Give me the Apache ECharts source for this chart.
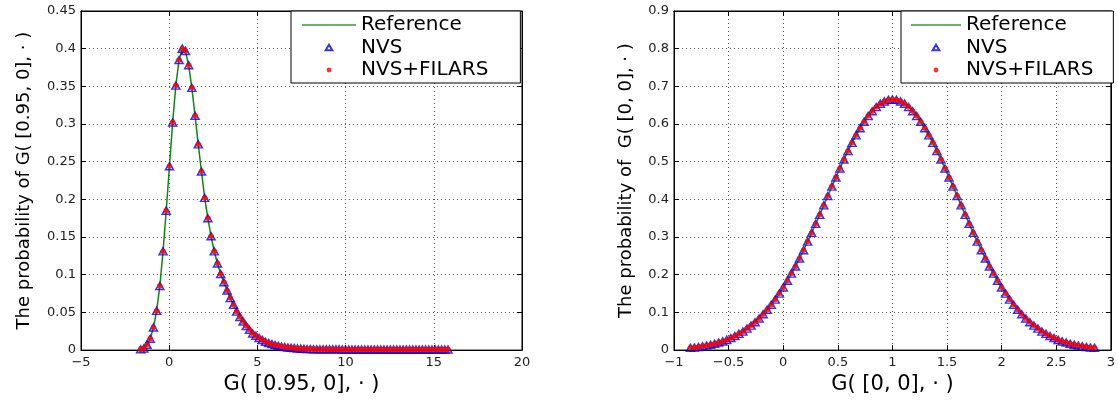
<!DOCTYPE html>
<html>
<head>
<meta charset="utf-8">
<title>G distribution</title>
<script src="https://cdn.jsdelivr.net/npm/echarts@6/dist/echarts.min.js"></script>
<style>
  html, body { margin: 0; padding: 0; background: #fff; }
  #chart { width: 1118px; height: 400px; }
</style>
</head>
<body>
<div id="chart"></div>
<script>
// left panel: G( [0.95, 0], . )
const leftX = [
  -1.62, -1.44, -1.257, -1.076, -0.894, -0.713, -0.531, -0.35, -0.168, 0.014,
  0.195, 0.377, 0.558, 0.74, 0.921, 1.103, 1.284, 1.466, 1.647, 1.829,
  2.01, 2.192, 2.373, 2.555, 2.736, 2.918, 3.099, 3.281, 3.462, 3.644,
  3.825, 4.007, 4.188, 4.37, 4.551, 4.733, 4.914, 5.096, 5.277, 5.459,
  5.64, 5.822, 6.003, 6.185, 6.366, 6.548, 6.729, 6.911, 7.092, 7.274,
  7.455, 7.637, 7.818, 8.0, 8.181, 8.363, 8.544, 8.726, 8.907, 9.089,
  9.27, 9.452, 9.633, 9.815, 9.996, 10.178, 10.359, 10.541, 10.722, 10.904,
  11.085, 11.267, 11.448, 11.63, 11.811, 11.993, 12.174, 12.356, 12.537, 12.719,
  12.9, 13.082, 13.263, 13.445, 13.626, 13.808, 13.989, 14.171, 14.352, 14.534,
  14.715, 14.897, 15.078, 15.26, 15.441, 15.623, 15.804
];
const leftP = [
  0.001, 0.002, 0.007, 0.015, 0.03, 0.052, 0.085, 0.131, 0.185, 0.244,
  0.302, 0.351, 0.385, 0.4, 0.397, 0.378, 0.348, 0.311, 0.273, 0.237,
  0.202, 0.175, 0.151, 0.131, 0.115, 0.101, 0.09, 0.079, 0.069, 0.06,
  0.051, 0.044, 0.038, 0.032, 0.027, 0.022, 0.019, 0.016, 0.0135, 0.011,
  0.0092, 0.0079, 0.0066, 0.0057, 0.0048, 0.0041, 0.0035, 0.003, 0.0026, 0.0022,
  0.0019, 0.0017, 0.0015, 0.0013, 0.0012, 0.0011, 0.001, 0.001, 0.001, 0.0009,
  0.0009, 0.0009, 0.0009, 0.0008, 0.0008, 0.0008, 0.0008, 0.0008, 0.0008, 0.0008,
  0.0008, 0.0008, 0.0008, 0.0008, 0.0008, 0.0008, 0.0008, 0.0008, 0.0008, 0.0008,
  0.0008, 0.0008, 0.0008, 0.0008, 0.0008, 0.0008, 0.0008, 0.0008, 0.0008, 0.0008,
  0.0008, 0.0008, 0.0008, 0.0008, 0.0008, 0.0008, 0.0008
];

// right panel: G( [0, 0], . )
const rightX = [
  -0.85, -0.813, -0.776, -0.739, -0.702, -0.665, -0.628, -0.591, -0.554, -0.517,
  -0.48, -0.443, -0.406, -0.369, -0.332, -0.295, -0.258, -0.221, -0.184, -0.147,
  -0.11, -0.073, -0.036, 0.001, 0.038, 0.075, 0.112, 0.149, 0.186, 0.223,
  0.26, 0.297, 0.334, 0.371, 0.408, 0.445, 0.482, 0.519, 0.556, 0.593,
  0.63, 0.667, 0.704, 0.741, 0.778, 0.815, 0.852, 0.889, 0.926, 0.963,
  1.0, 1.037, 1.074, 1.111, 1.148, 1.185, 1.222, 1.259, 1.296, 1.333,
  1.37, 1.407, 1.444, 1.481, 1.518, 1.555, 1.592, 1.629, 1.666, 1.703,
  1.74, 1.777, 1.814, 1.851, 1.888, 1.925, 1.962, 1.999, 2.036, 2.073,
  2.11, 2.147, 2.184, 2.221, 2.258, 2.295, 2.332, 2.369, 2.406, 2.443,
  2.48, 2.517, 2.554, 2.591, 2.628, 2.665, 2.702, 2.739, 2.776, 2.813,
  2.85
];
const rightP = [
  0.006, 0.007, 0.008, 0.01, 0.012, 0.014, 0.017, 0.02, 0.023, 0.027,
  0.032, 0.037, 0.043, 0.049, 0.057, 0.065, 0.074, 0.084, 0.095, 0.107,
  0.12, 0.134, 0.15, 0.166, 0.184, 0.203, 0.222, 0.243, 0.265, 0.288,
  0.311, 0.335, 0.359, 0.384, 0.409, 0.434, 0.458, 0.482, 0.506, 0.528,
  0.55, 0.57, 0.589, 0.606, 0.621, 0.634, 0.645, 0.654, 0.66, 0.664,
  0.665, 0.664, 0.66, 0.654, 0.645, 0.634, 0.621, 0.606, 0.589, 0.57,
  0.55, 0.528, 0.506, 0.482, 0.458, 0.434, 0.409, 0.384, 0.359, 0.335,
  0.311, 0.288, 0.265, 0.243, 0.222, 0.203, 0.184, 0.166, 0.15, 0.134,
  0.12, 0.107, 0.095, 0.084, 0.074, 0.065, 0.057, 0.049, 0.043, 0.037,
  0.032, 0.027, 0.023, 0.02, 0.017, 0.014, 0.012, 0.01, 0.008, 0.007,
  0.006
];

// axis ranges: [min, max, interval]
const leftXRange = [-5, 20, 5];
const leftYRange = [0, 0.45, 0.05];
const rightXRange = [-1, 3, 0.5];
const rightYRange = [0, 0.9, 0.1];

const seriesNames = ['Reference', 'NVS', 'NVS+FILARS'];
const axisNames = {
  leftX: 'G( [0.95, 0], \u00b7 )',
  leftY: 'The probability of G( [0.95, 0], \u00b7 )',
  rightX: 'G( [0, 0], \u00b7 )',
  rightY: 'The probability of  G( [0, 0], \u00b7 )'
};

const FONT = 'DejaVu Sans';
const GREEN = '#0a8a0a';
// legend icons: the two corner points keep the marker small inside its box
const LINE_ICON = 'path://M0,0L36,0L36,1L0,1Z';
const TRI_ICON = 'path://M0,0L0.01,0M10,10L10.01,10M5,1.5L9.2,8.5L0.8,8.5Z';
const DOT_ICON = 'path://M0,0L0.01,0M10,10L10.01,10M8,5A3,3,0,1,1,2,5A3,3,0,1,1,8,5Z';

const pair = (xs, ys) => xs.map((x, i) => [x, ys[i]]);
const minus = v => String(v).replace('-', '\u2212');

function mainAxis(grid, range, name, pos, gap) {
  const isX = pos === 'bottom';
  return {
    type: 'value', gridIndex: grid, position: pos,
    min: range[0], max: range[1], interval: range[2],
    name: name, nameLocation: 'middle', nameGap: gap,
    nameTextStyle: { fontFamily: FONT, fontSize: isX ? 21 : 18, color: '#000' },
    axisLine: { show: true, onZero: false, lineStyle: { color: '#000', width: 1 } },
    axisTick: { show: true, inside: true, length: 5, lineStyle: { color: '#000' } },
    axisLabel: { fontFamily: FONT, fontSize: 13, color: '#222', margin: isX ? 6 : 5, formatter: minus },
    splitLine: { show: true, lineStyle: { color: '#555', width: 1, type: [1, 3] } }
  };
}

// top / right axes only carry the inner ticks
function tickAxis(grid, range, pos) {
  return {
    type: 'value', gridIndex: grid, position: pos,
    min: range[0], max: range[1], interval: range[2],
    axisLine: { show: true, onZero: false, lineStyle: { color: '#000', width: 1 } },
    axisTick: { show: true, inside: true, length: 5, lineStyle: { color: '#000' } },
    axisLabel: { show: false },
    splitLine: { show: false }
  };
}

function panelSeries(xi, yi, xs, ys) {
  return [
    {
      name: seriesNames[0], type: 'line', xAxisIndex: xi, yAxisIndex: yi,
      data: pair(xs, ys), symbol: 'none', showSymbol: false, silent: true,
      lineStyle: { color: GREEN, width: 1.5 }, itemStyle: { color: GREEN }, z: 2
    },
    {
      name: seriesNames[1], type: 'scatter', xAxisIndex: xi, yAxisIndex: yi,
      data: pair(xs, ys), symbol: 'triangle', symbolSize: [8, 7], silent: true,
      itemStyle: { color: 'rgba(0,0,255,0)', borderColor: '#0000ee', borderWidth: 1.5 }, z: 3
    },
    {
      name: seriesNames[2], type: 'scatter', xAxisIndex: xi, yAxisIndex: yi,
      data: pair(xs, ys), symbol: 'circle', symbolSize: 5.5, silent: true,
      itemStyle: { color: '#ff0000' }, z: 4
    }
  ];
}

function legendBox(left, iconW, padding) {
  return {
    left: left, top: 11, orient: 'vertical', selectedMode: false,
    itemWidth: iconW, itemHeight: 8, itemGap: 2.5, padding: padding,
    backgroundColor: '#fff', borderColor: '#000', borderWidth: 1, borderRadius: 0,
    textStyle: { fontFamily: FONT, fontSize: 20, color: '#000', lineHeight: 20 },
    data: [
      { name: seriesNames[0], icon: LINE_ICON, itemStyle: { color: '#3a9a3a', borderWidth: 0 } },
      { name: seriesNames[1], icon: TRI_ICON },
      { name: seriesNames[2], icon: DOT_ICON }
    ]
  };
}

const chart = echarts.init(document.getElementById('chart'));
chart.setOption({
  animation: false,
  backgroundColor: '#fff',
  grid: [
    { left: 81, top: 11, width: 441, height: 343, show: true, borderColor: '#000', borderWidth: 1, backgroundColor: '#fff' },
    { left: 674, top: 11, width: 440, height: 343, show: true, borderColor: '#000', borderWidth: 1, backgroundColor: '#fff' }
  ],
  xAxis: [
    mainAxis(0, leftXRange, axisNames.leftX, 'bottom', 18),
    tickAxis(0, leftXRange, 'top'),
    mainAxis(1, rightXRange, axisNames.rightX, 'bottom', 18),
    tickAxis(1, rightXRange, 'top')
  ],
  yAxis: [
    mainAxis(0, leftYRange, axisNames.leftY, 'left', 48),
    tickAxis(0, leftYRange, 'right'),
    mainAxis(1, rightYRange, axisNames.rightY, 'left', 39),
    tickAxis(1, rightYRange, 'right')
  ],
  legend: [
    legendBox(291, 54, [4, 32, 3, 11]),
    legendBox(901, 50, [4, 20, 3, 10])
  ],
  series: [
    ...panelSeries(0, 0, leftX, leftP),
    ...panelSeries(2, 2, rightX, rightP)
  ]
});
</script>
</body>
</html>
